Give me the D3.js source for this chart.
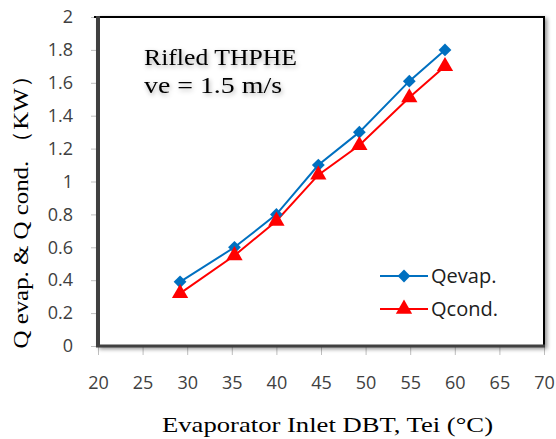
<!DOCTYPE html>
<html><head><meta charset="utf-8">
<script src="https://cdn.jsdelivr.net/npm/d3@7"></script>
<style>body{margin:0;background:#fff}svg{display:block}</style>
</head><body><svg id="c" width="556" height="439"></svg>
<script>
const temps = [29.2, 35.3, 40.0, 44.7, 49.3, 54.9, 58.9];
const qevap = [0.39, 0.60, 0.80, 1.10, 1.30, 1.61, 1.80];
const qcond = [0.32, 0.55, 0.76, 1.04, 1.22, 1.51, 1.70];
const xTicks = [20,25,30,35,40,45,50,55,60,65,70];
const yTicks = [0,0.2,0.4,0.6,0.8,1,1.2,1.4,1.6,1.8,2];
const seriesNames = ["Qevap.", "Qcond."];
const colors = ["#0070c0", "#ff0000"];

const svg = d3.select("#c");
const L=98, R=544, T=17, B=346;
const x = d3.scaleLinear().domain([20,70]).range([L,R]);
const y = d3.scaleLinear().domain([0,2]).range([B,T]);

const defs = svg.append("defs");
const f = defs.append("filter").attr("id","sh").attr("x","-10%").attr("y","-10%").attr("width","130%").attr("height","130%");
f.append("feGaussianBlur").attr("in","SourceAlpha").attr("stdDeviation",2);
f.append("feOffset").attr("dx",2).attr("dy",2).attr("result","b");
f.append("feComponentTransfer").append("feFuncA").attr("type","linear").attr("slope",0.45);
const m = f.append("feMerge"); m.append("feMergeNode"); m.append("feMergeNode").attr("in","SourceGraphic");
const g2 = defs.append("filter").attr("id","glow").attr("x","-10%").attr("y","-30%").attr("width","120%").attr("height","160%");
g2.append("feGaussianBlur").attr("in","SourceAlpha").attr("stdDeviation",2.5);
g2.append("feOffset").attr("dx",1).attr("dy",2);
g2.append("feComponentTransfer").append("feFuncA").attr("type","linear").attr("slope",0.35);
const m2 = g2.append("feMerge"); m2.append("feMergeNode"); m2.append("feMergeNode").attr("in","SourceGraphic");

const tickFont = "'Open Sans', sans-serif";
// axes ticks
const yAxis = d3.axisLeft(y).tickValues(yTicks).tickSize(7).tickFormat(d3.format("~g"));
const ya = svg.append("g").attr("transform",`translate(${L},0)`).call(yAxis);
ya.select(".domain").remove();
ya.selectAll("line").attr("stroke","#bfbfbf");
ya.selectAll("text").attr("x",-25).attr("fill","#404040").style("font-family",tickFont).style("font-size","18px");

const xAxis = d3.axisBottom(x).tickValues(xTicks).tickSize(8);
const xa = svg.append("g").attr("transform",`translate(0,${B+1})`).call(xAxis);
xa.select(".domain").remove();
xa.selectAll("line").attr("stroke","#bfbfbf");
xa.selectAll("text").attr("y",29).attr("fill","#404040").style("font-family",tickFont).style("font-size","18px");

// frame
svg.append("rect").attr("x",L).attr("y",T).attr("width",R-L).attr("height",B-T)
  .attr("fill","#fff").attr("stroke","#000").attr("stroke-width",2).attr("filter","url(#sh)");
svg.append("line").attr("x1",L-4).attr("x2",L).attr("y1",T).attr("y2",T).attr("stroke","#000").attr("stroke-width",2);
svg.append("line").attr("x1",L).attr("x2",L).attr("y1",T-1).attr("y2",B+1).attr("stroke","#404040").attr("stroke-width",4);
svg.append("line").attr("x1",L-2).attr("x2",R+1).attr("y1",B).attr("y2",B).attr("stroke","#404040").attr("stroke-width",3);

const data = [qevap, qcond];
const line = d3.line().x((d,i)=>x(temps[i])).y(d=>y(d));
const diamond = d3.symbol().type(d3.symbolSquare).size(82);
const tri = d3.symbol().type(d3.symbolTriangle).size(115);
const mark = (k, tx, ty) => `translate(${tx},${ty})` + (k===0 ? " rotate(45)" : "");
data.forEach((s,k)=>{
  svg.append("path").attr("d",line(s)).attr("fill","none").attr("stroke",colors[k]).attr("stroke-width",2);
});
data.forEach((s,k)=>{
  svg.selectAll(null).data(s).enter().append("path")
    .attr("transform",(d,i)=>mark(k, x(temps[i]), y(d)))
    .attr("d",k===0?diamond:tri).attr("fill",colors[k]);
});

// legend
seriesNames.forEach((n,k)=>{
  const ly = 276 + k*33;
  svg.append("line").attr("x1",380).attr("x2",428).attr("y1",ly).attr("y2",ly).attr("stroke",colors[k]).attr("stroke-width",2);
  svg.append("path").attr("transform",mark(k,404,ly)).attr("d",k===0?diamond:tri).attr("fill",colors[k]);
  svg.append("text").attr("x",431).attr("y",ly+7).text(n).attr("fill","#202020")
    .style("font-family",tickFont).style("font-size","20px");
});

// annotation
const ann = svg.append("g").attr("filter","url(#glow)").style("font-family","'Liberation Serif', serif").style("font-size","23px").attr("fill","#000");
ann.append("text").attr("x",144).attr("y",65).attr("textLength",153).attr("lengthAdjust","spacingAndGlyphs").text("Rifled THPHE");
ann.append("text").attr("x",144).attr("y",93).attr("textLength",138).attr("lengthAdjust","spacingAndGlyphs").text("ve = 1.5 m/s");

// axis titles
svg.append("text").attr("transform","translate(28,206) rotate(-90)").attr("text-anchor","middle")
  .style("font-family","'Liberation Serif', serif").style("font-size","22px").attr("fill","#000")
  .attr("textLength",285).attr("lengthAdjust","spacingAndGlyphs")
  .text("Q evap. & Q cond. （KW）");
svg.append("text").attr("x",162).attr("y",432)
  .style("font-family","'Liberation Serif', serif").style("font-size","22px").attr("fill","#000")
  .attr("textLength",331).attr("lengthAdjust","spacingAndGlyphs")
  .text("Evaporator Inlet DBT, Tei (°C)");
</script></body></html>
